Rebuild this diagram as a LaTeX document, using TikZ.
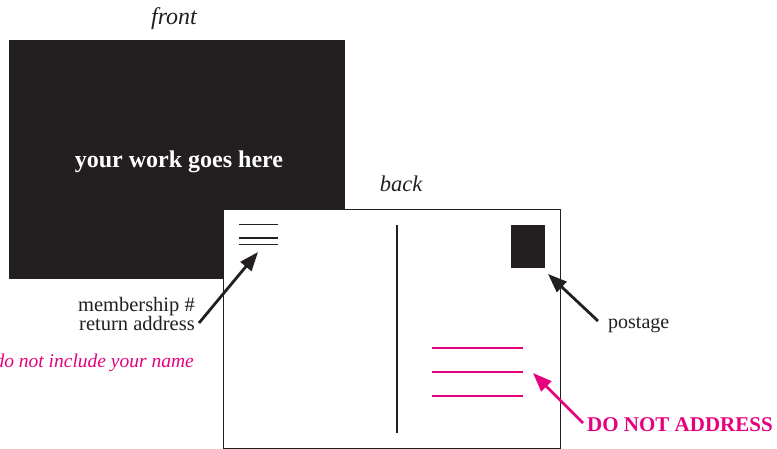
\documentclass[tikz,border=0pt]{standalone}
\usepackage{fontspec}
\setmainfont{Liberation Serif}
\usetikzlibrary{arrows.meta}
\definecolor{pinkc}{RGB}{230,0,126}
\definecolor{ink}{RGB}{35,31,32}
\tikzset{
  card/.style={rectangle, inner sep=0pt, minimum width=336pt, minimum height=239pt},
  lbl/.style={inner sep=0pt, font=\fontsize{20}{19}\selectfont, text=ink},
  ptr/.style={draw=ink, line width=2.8pt, -{Triangle[length=19pt,width=14pt]}},
  pptr/.style={draw=pinkc, line width=2.8pt, -{Triangle[length=19pt,width=14pt]}},
  rule/.style={draw=ink, line width=1.1pt},
  prule/.style={draw=pinkc, line width=2.2pt},
}
\begin{document}
\begin{tikzpicture}[x=1pt,y=-1pt]
\useasboundingbox (0,0) rectangle (777,449);
% front card
\node[card, fill=ink, line width=0pt] (front) at (177,159.5) {};
\node[inner sep=0pt, text=white, font=\fontsize{24}{26}\selectfont\bfseries] (work) at (179,162) {your work goes here};
\node[lbl, font=\fontsize{24}{26}\selectfont\itshape] (frontlbl) at (174,19) {front};
% back card
\node[card, fill=white, draw=ink, line width=0.9pt, minimum width=337pt] (back) at (391.5,328.5) {};
\node[lbl, font=\fontsize{22.5}{24}\selectfont\itshape] (backlbl) at (401,184) {back};
% divider
\coordinate (dtop) at (397,225);
\coordinate (dbot) at (397,433);
\draw[draw=ink, line width=1.1pt] (dtop) -- (dbot);
% return address lines
\coordinate (l1a) at (239,224.7); \coordinate (l1b) at (278,224.7);
\coordinate (l2a) at (239,238);   \coordinate (l2b) at (278,238);
\coordinate (l3a) at (239,244.7); \coordinate (l3b) at (278,244.7);
\draw[rule] (l1a) -- (l1b);
\draw[rule] (l2a) -- (l2b);
\draw[rule] (l3a) -- (l3b);
% stamp
\node[rectangle, fill=ink, inner sep=0pt, minimum width=34pt, minimum height=43pt] (stamp) at (528,246.5) {};
% pink address lines
\coordinate (p1a) at (432,348); \coordinate (p1b) at (523,348);
\coordinate (p2a) at (432,372); \coordinate (p2b) at (523,372);
\coordinate (p3a) at (432,396); \coordinate (p3b) at (523,396);
\draw[prule] (p1a) -- (p1b);
\draw[prule] (p2a) -- (p2b);
\draw[prule] (p3a) -- (p3b);
% labels
\node[lbl, align=right, anchor=east, font=\fontsize{20.5}{18.5}\selectfont] (memb) at (195,314) {membership \#\\return address};
\node[lbl, anchor=east, text=pinkc, font=\fontsize{19.5}{21}\selectfont\itshape] (noname) at (194,362.5) {do not include your name};
\node[lbl, anchor=west] (postage) at (608,325) {postage};
\node[lbl, anchor=west, text=pinkc, font=\fontsize{21}{23}\selectfont\bfseries] (noaddr) at (587,424.5) {DO NOT ADDRESS};
% arrows
\coordinate (mtail) at (199,323); \coordinate (mtip) at (258,252);
\coordinate (stail) at (598,321); \coordinate (stip) at (548,274);
\coordinate (ptail) at (583,423); \coordinate (ptip) at (533,373);
\draw[ptr] (mtail) -- (mtip);
\draw[ptr] (stail) -- (stip);
\draw[pptr] (ptail) -- (ptip);
\end{tikzpicture}
\end{document}
